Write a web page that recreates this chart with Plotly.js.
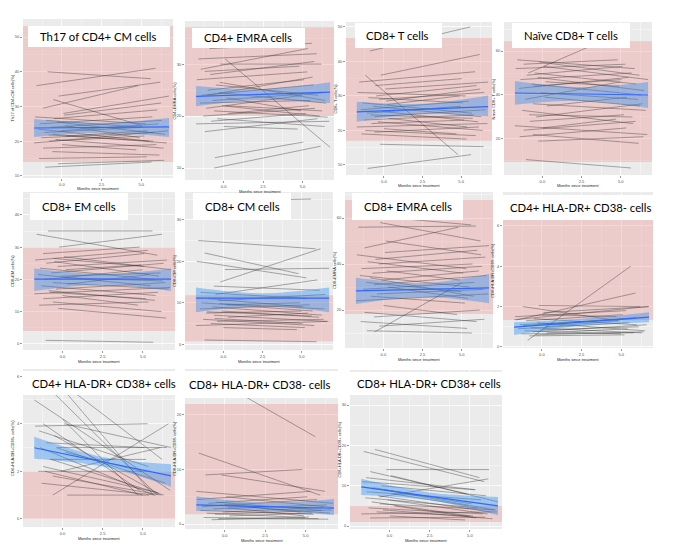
<!DOCTYPE html>
<html><head><meta charset="utf-8">
<script src="https://cdn.plot.ly/plotly-3.0.1.min.js"></script>
<style>html,body{margin:0;padding:0;background:#fff}#chart{width:673px;height:558px}</style>
</head><body><div id="chart"></div>
<script>
// ---- shared time points (months since treatment) ----
const monthsPre  = [-0.9,-1.6,-0.2,-1.2,0.1,-1.7,-0.5,-1.0,-0.3,-1.4,0.2,-0.7,-1.5,-0.1,-1.1,-0.6,0.3,-1.3,-0.4,-0.8,-1.75,0.0,-1.2,-0.6,-1.45,-0.25,-1.05,-0.55,0.15,-0.85];
const monthsPost = [5.6,5.9,6.2,4.8,6.75,5.3,6.0,5.1,6.5,5.7,4.9,6.3,5.5,6.1,5.0,6.6,5.4,5.8,6.4,5.2,6.7,4.7,5.95,6.15,5.35,6.45,5.65,5.05,6.25,5.75];
const fitMonths = [-1.75, 2.5, 6.75];
const xRange = [-2.45, 7.0];
const xTickVals = [0, 2.5, 5];
const xTickText = ['0.0', '2.5', '5.0'];
const xAxisTitle = 'Months since treatment';

// ---- Th17 of CD4+ CM ----
const th17Pre  = [40,36,33,29.5,28,27,26.5,26,25.5,25,24.5,24,23.5,23,22.5,22,21.5,21,20.5,20,19.5,19,18,17,15,13.5,12.5,32,27.5,21.8];
const th17Post = [38,41,37,36,33,25,29,24,22,27,21,26,20,25,24,19.5,23,22.5,18,21.5,23,17.5,19,16,15.5,14.5,14,24.5,31,20];
const th17Fit = [23.8, 24.1];
const th17Lo = [21.2, 22.4, 21.2];
const th17Hi = [26.4, 25.3, 26.7];
const th17Ref = [14, 53.2];
const th17Ticks = [10, 20, 30, 40, 50];

// ---- CD4+ EMRA ----
const cd4emraPre  = [33,31,30,28.6,31,27,26,25,24.5,24,23.5,23,22.5,22,21.5,21,20.5,20,19.5,19,18.5,18,17,10,29,26.5,24,12,22,28];
const cd4emraPost = [34,32,30,29.6,14,28.5,24,27,22.5,26,21,24.5,23,20,24,19.8,22,21.5,18,20.5,19,17.5,19.5,14.2,33,23,27.5,15,21,30.5];
const cd4emraFit = [23.8, 24.6];
const cd4emraLo = [21.9, 23.1, 22.5];
const cd4emraHi = [25.8, 25.2, 26.5];
const cd4emraRef = [20, 37.1];
const cd4emraTicks = [10, 20, 30];

// ---- CD8+ T ----
const cd8tPre  = [43,34,36,36,32,31,30,29.5,29,28,27.5,27,26,25.5,25,24,23.5,23,22.5,22,21,20.5,20,19.5,19,16,9,33,28.5,24.5];
const cd8tPost = [50,37,42,13,34,30,33,28,31,25,30,24,28.5,22.5,27,26,21,24.5,20,23,22,19,18.5,21,17.5,15.3,13,35,32,23.5];
const cd8tFit = [25.4, 26.9];
const cd8tLo = [22.5, 24.8, 24.1];
const cd8tHi = [28.3, 27.7, 30.1];
const cd8tRef = [17, 46.8];
const cd8tTicks = [10, 20, 30, 40, 50];

// ---- Naive CD8+ T ----
const naivePre  = [50,56,55,54,53,52,50,49,48,47,46,45,43,41,38,36,35,33,30,28,26,25,24,22,21,19,10.6,44,39,31];
const naivePost = [70,52,49,56,47,54,45,53,42,50,44,40,48,38,46,33,39,27,36,31,22,29,28,18,25,21,6.8,47,35,30];
const naiveFit = [40.9, 40.0];
const naiveLo = [35.5, 37.3, 34.1];
const naiveHi = [46.4, 43.6, 45.9];
const naiveRef = [9.5, 64.5];
const naiveTicks = [20, 40, 60];

// ---- CD8+ EM ----
const cd8emPre  = [35,34,30,28,27,26,25.5,25,24,23.5,23,22,21.5,21,20,19,18.5,18,17,16,15.5,15,14,13,12,11,1.1,26.5,20.5,16.5];
const cd8emPost = [35,27.5,34,30,23,29,21,28,26,20,24.5,25,18,22,23,17,21.5,15,19,14,17.5,12,16,10,13,8,0.5,24,19.5,13.5];
const cd8emFit = [20.1, 20.1];
const cd8emLo = [16.4, 18.3, 16.4];
const cd8emHi = [23.4, 21.7, 23.4];
const cd8emRef = [4, 30];
const cd8emTicks = [0, 10, 20, 30, 40];

// ---- CD8+ CM ----
const cd8cmPre  = [34.5,25,15,22,18,20,12,11,10.5,10,9.5,9,8.5,8,7.5,7,6.5,6,5.5,5,4.5,4,1,14,12.5,9.8,7.8,6.2];
const cd8cmPost = [35,23,23,17,18.3,16,15.5,9,12,8,10,7,9.5,6.5,8,5.5,7.5,4.5,6,4,5.5,3.5,0.6,13,11,8.5,6.8,5];
const cd8cmFit = [11.1, 11.1];
const cd8cmLo = [7.7, 9.2, 7.7];
const cd8cmHi = [13.7, 12.3, 13.7];
const cd8cmRef = [0.7, 11.8];
const cd8cmTicks = [0, 10, 20, 30];

// ---- CD8+ EMRA ----
const cd8emraPre  = [61,56,58,47,45,44,42,41,40,38,37,36,35,33,32,31,30,29,27,26,24,22,19,17,15,13,11,10.5,50,34];
const cd8emraPost = [57,56.5,50,56,48,38,46,36,43,40,33,39,30,37,28,35,25,32,29,23,27,18,15,20,12,16,10,32,44,26];
const cd8emraFit = [28.3, 29.6];
const cd8emraLo = [22.6, 25.7, 23.0];
const cd8emraHi = [34.0, 31.7, 35.7];
const cd8emraRef = [18.3, 67.8];
const cd8emraTicks = [20, 40, 60];

// ---- CD4+ HLA-DR+ CD38- ----
const cd4drNegPre  = [0.33,1.34,2.05,2.0,1.7,1.5,1.4,1.3,1.2,1.1,1.0,0.95,0.9,0.85,0.8,0.75,0.7,0.65,0.6,0.55,1.35,1.6,1.05];
const cd4drNegPost = [4.0,2.67,2.0,1.3,2.0,1.8,1.1,1.6,0.8,1.4,1.3,0.7,1.2,1.0,0.65,1.1,0.9,0.7,0.75,0.6,2.0,1.5,1.45];
const cd4drNegFit = [0.98, 1.48];
const cd4drNegLo = [0.59, 1.05, 1.23];
const cd4drNegHi = [1.23, 1.40, 1.72];
const cd4drNegRef = [1.33, 6.3];
const cd4drNegTicks = [0, 2, 4, 6];

// ---- CD4+ HLA-DR+ CD38+ ----
const cd4drPosPre  = [6.2,6.0,5.8,4.0,4.0,3.9,3.5,3.2,3.0,3.0,2.8,2.5,2.0,2.0,2.0,1.0,1.0,1.5,3.0,2.5,5.0,4.2,2.2,1.8,3.7];
const cd4drPosPost = [1.05,1.0,2.5,1.2,3.0,4.0,1.05,3.0,3.0,1.0,2.0,1.0,2.0,3.0,1.0,4.0,1.0,1.0,1.5,2.5,1.2,1.0,1.1,1.0,2.2];
const cd4drPosFit = [2.99, 1.81];
const cd4drPosLo = [2.53, 2.2, 1.35];
const cd4drPosHi = [3.45, 2.6, 2.3];
const cd4drPosRef = [0, 2];
const cd4drPosTicks = [0, 2, 4, 6];

// ---- CD8+ HLA-DR+ CD38- ----
const cd8drNegPre  = [27,13,9,9,5,4.5,4,3.8,3.5,3.2,3,2.8,2.5,2.2,2,1.8,1.5,1.2,1,0.8,6,3.6];
const cd8drNegPost = [16,5.3,6,10,3,6,2.5,5,2,4.5,1.5,3.5,1.8,3,1.2,2.6,2,1,0.9,1.3,3.8,2.2];
const cd8drNegFit = [3.5, 2.9];
const cd8drNegLo = [2.4, 2.5, 1.65];
const cd8drNegHi = [5.1, 3.9, 4.6];
const cd8drNegRef = [1.8, 22];
const cd8drNegTicks = [0, 10, 20];

// ---- CD8+ HLA-DR+ CD38+ ----
const cd8drPosPre  = [19,18.5,14,13.5,12.5,11,10,9.5,9,8.5,8,7.5,7,6.5,6,5.5,5,4.5,4,3.5,3,2.5,2,7.2,12];
const cd8drPosPost = [12,11,14,8,6,9,7.5,5.5,4,6.5,5,3.5,4.5,3,2.5,4,2,3,1.8,2.5,3.5,1.5,2.2,11.7,9];
const cd8drPosFit = [9.7, 5.0];
const cd8drPosLo = [7.7, 6.4, 2.7];
const cd8drPosHi = [11.7, 8.3, 7.2];
const cd8drPosRef = [1, 5];
const cd8drPosTicks = [0, 10, 20, 30];

// ---- panel layout (pixel geometry) ----
const W = 673, H = 558;
const panels = [
 {title:'Th17 of CD4+ CM cells', ytitle:'Th17 of CD4+CM cells(%)', pre:th17Pre, post:th17Post, fit:th17Fit, lo:th17Lo, hi:th17Hi, ref:th17Ref, ticks:th17Ticks, plot:[23,173,19,178], yr:[9.4,55.2], box:[28,170,26,47], tx:38},
 {title:'CD4+ EMRA cells', ytitle:'CD4+EMRA cells(%)', pre:cd4emraPre, post:cd4emraPost, fit:cd4emraFit, lo:cd4emraLo, hi:cd4emraHi, ref:cd4emraRef, ticks:cd4emraTicks, plot:[185,334,21,180], yr:[7.7,38.3], box:[192,305,28,48], tx:202},
 {title:'CD8+ T cells', ytitle:'CD8+ T cells(%)', pre:cd8tPre, post:cd8tPost, fit:cd8tFit, lo:cd8tLo, hi:cd8tHi, ref:cd8tRef, ticks:cd8tTicks, plot:[346,492,22,175], yr:[7.1,51.4], box:[355,442,23,48], tx:364},
 {title:'Naïve CD8+ T cells', ytitle:'Naïve CD8+ T cells(%)', pre:naivePre, post:naivePost, fit:naiveFit, lo:naiveLo, hi:naiveHi, ref:naiveRef, ticks:naiveTicks, plot:[504,652,22,175], yr:[3.6,73.2], box:[512,630,23,48], tx:522},
 {title:'CD8+ EM cells', ytitle:'CD8+EM cells(%)', pre:cd8emPre, post:cd8emPost, fit:cd8emFit, lo:cd8emLo, hi:cd8emHi, ref:cd8emRef, ticks:cd8emTicks, plot:[23,175,192,350], yr:[-1.9,47.1], box:[30,128,193,220], tx:40},
 {title:'CD8+ CM cells', ytitle:'CD8+CM cells(%)', pre:cd8cmPre, post:cd8cmPost, fit:cd8cmFit, lo:cd8cmLo, hi:cd8cmHi, ref:cd8cmRef, ticks:cd8cmTicks, plot:[185,333,192,350], yr:[-1.4,36.7], box:[193,291,193,220], tx:203},
 {title:'CD8+ EMRA cells', ytitle:'CD8+EMRA cells(%)', pre:cd8emraPre, post:cd8emraPost, fit:cd8emraFit, lo:cd8emraLo, hi:cd8emraHi, ref:cd8emraRef, ticks:cd8emraTicks, plot:[345,493,192,348], yr:[3.5,71.3], box:[352,463,193,220], tx:362},
 {title:'CD4+ HLA-DR+ CD38- cells', ytitle:'CD4+HLA-DR+CD38- cells(%)', pre:cd4drNegPre, post:cd4drNegPost, fit:cd4drNegFit, lo:cd4drNegLo, hi:cd4drNegHi, ref:cd4drNegRef, ticks:cd4drNegTicks, plot:[503,653,192,348], yr:[-0.05,7.67], box:[503,653,195,220], tx:508},
 {title:'CD4+ HLA-DR+ CD38+ cells', ytitle:'CD4+HLA-DR+CD38+ cells(%)', pre:cd4drPosPre, post:cd4drPosPost, fit:cd4drPosFit, lo:cd4drPosLo, hi:cd4drPosHi, ref:cd4drPosRef, ticks:cd4drPosTicks, plot:[23,175,369,527], yr:[-0.34,6.3], box:[23,175,371,395], tx:30},
 {title:'CD8+ HLA-DR+ CD38- cells', ytitle:'CD8+HLA-DR+CD38- cells(%)', pre:cd8drNegPre, post:cd8drNegPost, fit:cd8drNegFit, lo:cd8drNegLo, hi:cd8drNegHi, ref:cd8drNegRef, ticks:cd8drNegTicks, plot:[185,338,369,529], yr:[-0.9,28.4], box:[185,338,371,398], tx:187},
 {title:'CD8+ HLA-DR+ CD38+ cells', ytitle:'CD8+HLA-DR+CD38+ cells(%)', pre:cd8drPosPre, post:cd8drPosPost, fit:cd8drPosFit, lo:cd8drPosLo, hi:cd8drPosHi, ref:cd8drPosRef, ticks:cd8drPosTicks, plot:[350,502,370,529], yr:[-0.74,38.7], box:[350,502,372,395], tx:355}
];

const traces = [], shapes = [], annotations = [];
const layout = {
  width: W, height: H, margin: {l:0, r:0, t:0, b:0},
  paper_bgcolor: '#ffffff', plot_bgcolor: '#ebebeb',
  showlegend: false, font: {family: 'Liberation Sans, Arial, sans-serif', color: '#4d4d4d'}
};
const px = v => v / W, py = v => 1 - v / H;

panels.forEach((p, i) => {
  const s = i === 0 ? '' : String(i + 1);
  const xa = 'x' + s, ya = 'y' + s;
  // reference range (pink), drawn as a filled trace so it sits above the grid
  traces.push({x: [xRange[0], xRange[1], xRange[1], xRange[0]], y: [p.ref[0], p.ref[0], p.ref[1], p.ref[1]],
    mode: 'lines', fill: 'toself', fillcolor: 'rgba(240,128,128,0.30)', line: {width: 0, color: 'rgba(0,0,0,0)'},
    xaxis: xa, yaxis: ya, hoverinfo: 'skip'});
  // individual subject lines
  const lx = [], ly = [];
  const n = Math.min(p.pre.length, p.post.length);
  for (let j = 0; j < n; j++) {
    lx.push(monthsPre[j], monthsPost[j], null);
    ly.push(p.pre[j], p.post[j], null);
  }
  traces.push({x: lx, y: ly, mode: 'lines', xaxis: xa, yaxis: ya, hoverinfo: 'skip',
    line: {color: 'rgba(45,45,45,0.72)', width: 0.55}});
  // confidence band
  traces.push({x: fitMonths, y: p.lo, mode: 'lines', xaxis: xa, yaxis: ya, hoverinfo: 'skip',
    line: {width: 0, shape: 'spline', color: 'rgba(0,0,0,0)'}});
  traces.push({x: fitMonths, y: p.hi, mode: 'lines', xaxis: xa, yaxis: ya, hoverinfo: 'skip',
    fill: 'tonexty', fillcolor: 'rgba(40,140,240,0.40)',
    line: {width: 0, shape: 'spline', color: 'rgba(0,0,0,0)'}});
  // fitted line
  traces.push({x: [fitMonths[0], fitMonths[2]], y: p.fit, mode: 'lines', xaxis: xa, yaxis: ya, hoverinfo: 'skip',
    line: {color: '#3366FF', width: 1.2}});

  const dy = p.ticks[1] - p.ticks[0];
  layout['xaxis' + s] = {
    domain: [px(p.plot[0]), px(p.plot[1])], range: xRange, anchor: ya,
    tickmode: 'array', tickvals: xTickVals, ticktext: xTickText,
    ticks: 'outside', ticklen: 2, tickwidth: 0.5, tickcolor: '#333',
    tickfont: {size: 4, color: '#4d4d4d'},
    showgrid: true, gridcolor: '#ffffff', gridwidth: 0.8, zeroline: false, showline: false,
    minor: {tickmode: 'linear', tick0: -1.25, dtick: 2.5, showgrid: true, gridcolor: '#ffffff', gridwidth: 0.4, ticks: ''},
    fixedrange: true
  };
  layout['yaxis' + s] = {
    domain: [py(p.plot[3]), py(p.plot[2])], range: p.yr, anchor: xa,
    tickmode: 'array', tickvals: p.ticks, ticktext: p.ticks.map(String),
    ticks: 'outside', ticklen: 2, tickwidth: 0.5, tickcolor: '#333',
    tickfont: {size: 4, color: '#4d4d4d'},
    showgrid: true, gridcolor: '#ffffff', gridwidth: 0.8, zeroline: false, showline: false,
    minor: {tickmode: 'linear', tick0: p.ticks[0] - dy / 2, dtick: dy, showgrid: true, gridcolor: '#ffffff', gridwidth: 0.4, ticks: ''},
    fixedrange: true
  };
  // white title box
  shapes.push({type: 'rect', xref: 'paper', yref: 'paper', x0: px(p.box[0]), x1: px(p.box[1]),
    y0: py(p.box[3]), y1: py(p.box[2]), fillcolor: '#ffffff', line: {width: 0}, layer: 'above'});
  annotations.push({xref: 'paper', yref: 'paper', x: px(p.tx), y: py((p.box[2] + p.box[3]) / 2),
    xanchor: 'left', yanchor: 'middle', showarrow: false, text: p.title,
    font: {family: 'Lato, Noto Sans, sans-serif', size: 11.3, color: '#000000'}});
  // axis titles
  annotations.push({xref: 'paper', yref: 'paper', x: px(p.plot[0] - 11), y: py((p.plot[2] + p.plot[3]) / 2),
    xanchor: 'center', yanchor: 'middle', textangle: -90, showarrow: false, text: p.ytitle,
    font: {size: 4, color: '#222'}});
  annotations.push({xref: 'paper', yref: 'paper', x: px((p.plot[0] + p.plot[1]) / 2), y: py(p.plot[3] + 11),
    xanchor: 'center', yanchor: 'middle', showarrow: false, text: xAxisTitle,
    font: {size: 4, color: '#222'}});
});

layout.shapes = shapes;
layout.annotations = annotations;
Plotly.newPlot('chart', traces, layout, {displayModeBar: false, staticPlot: true});
</script>
</body></html>
